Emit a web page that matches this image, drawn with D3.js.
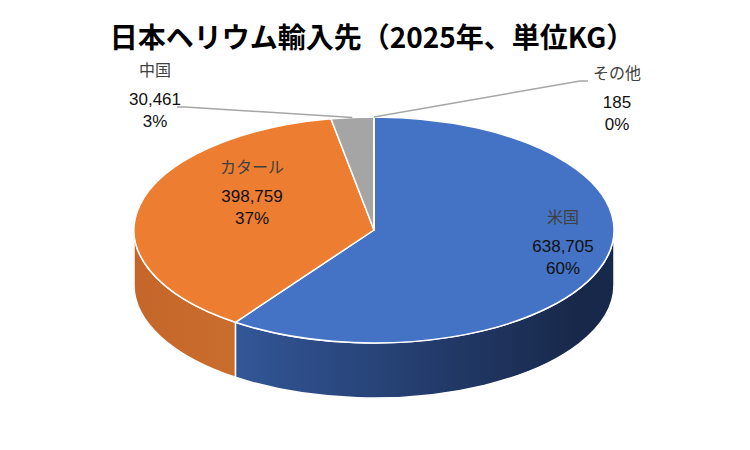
<!DOCTYPE html>
<html>
<head>
<meta charset="utf-8">
<title>日本ヘリウム輸入先</title>
<script src="https://d3js.org/d3.v7.min.js"></script>
<style>
body { margin: 0; background: #fff; }
text { font-family: "Noto Sans CJK JP", "Noto Sans", sans-serif; }
.num { font-family: "Liberation Sans", Arial, sans-serif; }
</style>
</head>
<body>
<svg id="chart"></svg>
<script>
// data
var countries = ["米国", "カタール", "中国", "その他"];
var amounts = [638705, 398759, 30461, 185];
var topColors = ["#4472c4", "#ed7d31", "#a5a5a5", "#ffc000"];
var sideLight = ["#34599c", "#c46629", "#8c8c8c", "#d9a300"];
var sideDark = ["#18284a", "#c96d2d", "#6e6e6e", "#b38600"];

var width = 750, height = 450;
var cx = 374, cy = 230, rx = 240, ry = 113, depth = 55;

var svg = d3.select("#chart").attr("width", width).attr("height", height);

var total = d3.sum(amounts);
var rows = countries.map(function(c, i) { return {name: c, value: amounts[i], i: i}; });

var pie = d3.pie().sort(null).value(function(d) { return d.value; });
var arcs = pie(rows);

function pt(a, k, dy) {
  k = k == null ? 1 : k;
  return [cx + rx * k * Math.sin(a), cy - ry * k * Math.cos(a) + (dy || 0)];
}

// gradients for side walls
var defs = svg.append("defs");
rows.forEach(function(d, i) {
  var g = defs.append("linearGradient")
    .attr("id", "side" + i)
    .attr("gradientUnits", "userSpaceOnUse")
    .attr("x1", cx - rx).attr("x2", cx + rx).attr("y1", 0).attr("y2", 0);
  g.append("stop").attr("offset", "0%").attr("stop-color", sideLight[i]);
  g.append("stop").attr("offset", "100%").attr("stop-color", sideDark[i]);
});
defs.select("#side1").attr("x1", cx - rx).attr("x2", cx - rx * 0.6);
defs.select("#side0").attr("x1", cx - rx * 0.66).attr("x2", cx + rx * 0.85);

// side walls: only the front half of the ellipse (angles 90..270 deg)
var front0 = Math.PI / 2, front1 = Math.PI * 1.5;
arcs.forEach(function(a) {
  var s = Math.max(a.startAngle, front0), e = Math.min(a.endAngle, front1);
  if (e <= s) return;
  var p0 = pt(s), p1 = pt(e), q1 = pt(e, 1, depth), q0 = pt(s, 1, depth);
  var path = "M" + p0 + "A" + rx + "," + ry + " 0 0 1 " + p1 +
    "L" + q1 + "A" + rx + "," + ry + " 0 0 0 " + q0 + "Z";
  svg.append("path")
    .attr("d", path)
    .attr("fill", "url(#side" + a.data.i + ")")
    .attr("stroke", "#fff")
    .attr("stroke-width", 1.5)
    .attr("stroke-linejoin", "round");
});

// top faces
svg.selectAll(".slice")
  .data(arcs)
  .enter().append("path")
  .attr("class", "slice")
  .attr("d", function(a) {
    var p0 = pt(a.startAngle), p1 = pt(a.endAngle);
    var large = (a.endAngle - a.startAngle) > Math.PI ? 1 : 0;
    return "M" + cx + "," + cy + "L" + p0 + "A" + rx + "," + ry + " 0 " + large + " 1 " + p1 + "Z";
  })
  .attr("fill", function(a) { return topColors[a.data.i]; })
  .attr("stroke", "#fff")
  .attr("stroke-width", 1.5)
  .attr("stroke-linejoin", "round");

// title
svg.append("text")
  .attr("x", 372).attr("y", 48)
  .attr("text-anchor", "middle")
  .attr("font-size", 28)
  .attr("font-weight", "bold")
  .attr("fill", "#000")
  .text("日本ヘリウム輸入先（2025年、単位KG）");

// label placement (x, y of the label block centre)
var labelAt = [[563, 243], [252, 193], [155, 96], [617, 99]];
var fmt = d3.format(",");

// leader lines for the small slices
var leaders = [null, null, [[177, 107], [185, 107]], [[588, 81], [580, 81]]];
arcs.forEach(function(a) {
  var l = leaders[a.data.i];
  if (!l) return;
  var mid = (a.startAngle + a.endAngle) / 2;
  var tip = pt(mid);
  svg.append("polyline")
    .attr("points", [l[0], l[1], tip].join(" "))
    .attr("fill", "none")
    .attr("stroke", "#a6a6a6")
    .attr("stroke-width", 1.5);
});

arcs.forEach(function(a) {
  var p = labelAt[a.data.i];
  var g = svg.append("g").attr("transform", "translate(" + p + ")")
    .attr("text-anchor", "middle").attr("font-size", 17);
  g.append("text").attr("y", -20).attr("font-size", 16).attr("fill", "#404040").text(a.data.name);
  g.append("text").attr("class", "num").attr("y", 9).attr("fill", "#111").text(fmt(a.data.value));
  g.append("text").attr("class", "num").attr("y", 31).attr("fill", "#111")
    .text(Math.round(a.data.value / total * 100) + "%");
});
</script>
</body>
</html>
